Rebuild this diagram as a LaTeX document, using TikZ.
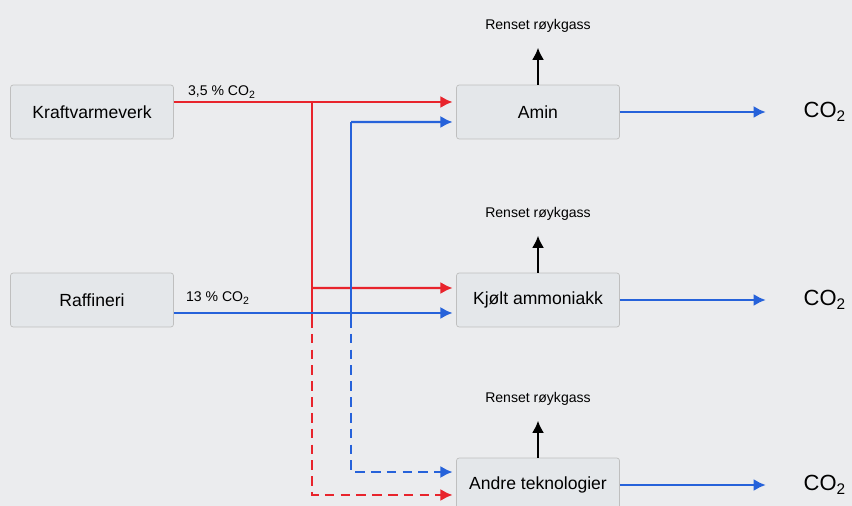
\documentclass[tikz,border=0pt]{standalone}
\usepackage{fontspec}
\setmainfont{Liberation Sans}
\usetikzlibrary{positioning, arrows.meta}
\definecolor{flowred}{RGB}{232,36,44}
\definecolor{flowblue}{RGB}{38,98,218}
\definecolor{boxfill}{RGB}{228,231,234}
\definecolor{bgcol}{RGB}{235,236,238}

\begin{document}
\begin{tikzpicture}[x=0.02cm, y=-0.02cm,
    unit/.style={draw=gray!50, fill=boxfill, rounded corners=1.5pt, minimum width=3.26cm, minimum height=1.08cm, font=\fontsize{10}{12}\selectfont},
    vent/.style={inner sep=1pt, font=\fontsize{8}{9.6}\selectfont},
    pct/.style={inner sep=1pt, font=\fontsize{8}{9.6}\selectfont},
    gas/.style={inner sep=2pt, font=\fontsize{12.5}{15}\selectfont},
    line/.style={line width=1.4pt},
    flow/.style={line width=1.4pt, -{Latex[length=7pt,width=7pt]}, shorten >=2pt},
    bypass/.style={dash pattern=on 5.5pt off 3.5pt}]
    \fill[bgcol] (0,0) rectangle (852,506);
    \clip (0,0) rectangle (852,506);

    % sources and capture units
    \node[unit] (kraft) at (92,112) {Kraftvarmeverk};
    \node[unit] (raff) at (92,300) {Raffineri};
    \node[unit] (amin) at (538,112) {Amin};
    \node[unit] (kjolt) at (538,300) {Kjølt ammoniakk};
    \node[unit] (andre) at (538,485) {Andre teknologier};

    \node[pct] (pct1) at (222,92) {3,5 \% CO\textsubscript{2}};
    \node[pct] (pct2) at (218,298) {13 \% CO\textsubscript{2}};

    % outlets
    \foreach \u in {amin, kjolt, andre} {
        \node[gas, right=3.6cm of \u.east] (co2\u) {CO\textsubscript{2}};
        \draw[flow, flowblue, shorten >=0.68cm] (\u.east) -- (co2\u.west);
        \node[vent, above=1.0cm of \u.north] (r\u) {Renset røykgass};
        \draw[flow, black, shorten >=0.26cm] (\u.north) -- (r\u.south);
    }

    % flue gas routing
    \coordinate (redtop) at (312,102);
    \coordinate (redmid) at (312,288);
    \coordinate (redlow) at (312,318);
    \coordinate (bluetop) at (351,122);
    \coordinate (bluelow) at (351,318);

    \draw[flow, flowred] ([yshift=0.2cm]kraft.east) -- ([yshift=0.2cm]amin.west);
    \draw[line, flowred] (redtop) -- (redlow);
    \draw[flow, flowred] (redmid) -- ([yshift=0.24cm]kjolt.west);
    \draw[flow, flowred, bypass] (redlow) |- ([yshift=-0.2cm]andre.west);

    \draw[flow, flowblue] ([yshift=-0.26cm]raff.east) -- ([yshift=-0.26cm]kjolt.west);
    \draw[line, flowblue] (bluetop) -- (bluelow);
    \draw[flow, flowblue] (bluetop) -- ([yshift=-0.2cm]amin.west);
    \draw[flow, flowblue, bypass] (bluelow) |- ([yshift=0.26cm]andre.west);
\end{tikzpicture}
\end{document}
